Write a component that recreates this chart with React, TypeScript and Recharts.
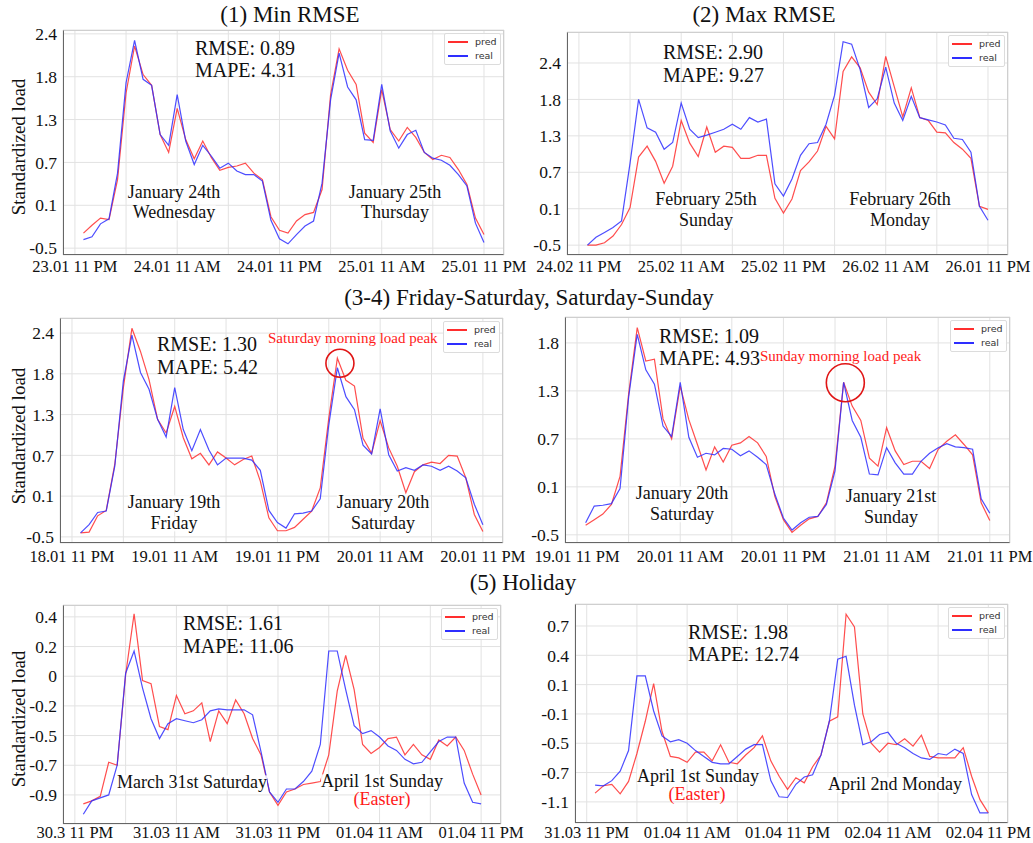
import React from "react";
import { LineChart, Line, XAxis, YAxis, CartesianGrid, ReferenceDot } from "recharts";

const SERIF = '"Liberation Serif", "Times New Roman", serif';
const SANS = '"DejaVu Sans", sans-serif';

const hours = [
  1, 2, 3, 4, 5, 6, 7, 8, 9, 10, 11, 12, 13, 14, 15, 16, 17, 18, 19, 20, 21, 22, 23, 24,
  25, 26, 27, 28, 29, 30, 31, 32, 33, 34, 35, 36, 37, 38, 39, 40, 41, 42, 43, 44, 45, 46, 47, 48,
];
const xTicks = [0, 6, 12, 18, 24, 30, 36, 42, 48];

// (1) Min RMSE
const p1Pred = [
  -0.29, -0.18, -0.08, -0.1, 0.46, 1.61, 2.23, 1.83, 1.7, 1.09, 0.84, 1.43, 1.02, 0.75, 1.0, 0.77,
  0.59, 0.63, 0.65, 0.69, 0.55, 0.46, -0.06, -0.25, -0.29, -0.12, -0.03, 0.0, 0.32, 1.59, 2.19, 1.89,
  1.71, 1.11, 0.98, 1.65, 1.16, 1.0, 1.19, 1.05, 0.84, 0.74, 0.8, 0.77, 0.6, 0.39, -0.08, -0.31,
];
const p1Real = [
  -0.38, -0.34, -0.16, -0.09, 0.55, 1.73, 2.31, 1.77, 1.7, 1.09, 0.94, 1.59, 1.0, 0.67, 0.94, 0.79,
  0.62, 0.69, 0.58, 0.53, 0.53, 0.44, -0.11, -0.37, -0.44, -0.31, -0.19, -0.12, 0.41, 1.53, 2.13, 1.68,
  1.53, 1.02, 1.01, 1.71, 1.14, 0.9, 1.09, 1.15, 0.84, 0.76, 0.73, 0.66, 0.53, 0.37, -0.15, -0.42,
];
const p1Levels = [-0.5, 0.1, 0.7, 1.3, 1.8, 2.4];
const p1XLabels = ["23.01 11 PM", "24.01 11 AM", "24.01 11 PM", "25.01 11 AM", "25.01 11 PM"];

// (2) Max RMSE
const p2Pred = [
  -0.5, -0.5, -0.46, -0.35, -0.16, 0.12, 0.95, 1.13, 0.88, 0.52, 0.8, 1.51, 1.18, 0.96, 1.42, 1.03,
  1.13, 1.11, 0.93, 0.93, 0.98, 0.98, 0.27, 0.03, 0.26, 0.73, 0.87, 1.05, 1.43, 1.25, 2.26, 2.5,
  2.32, 1.92, 1.73, 2.51, 2.01, 1.56, 1.99, 1.55, 1.51, 1.35, 1.34, 1.19, 1.08, 0.93, 0.14, 0.09,
];
const p2Real = [
  -0.5, -0.37, -0.29, -0.21, -0.1, 0.85, 1.8, 1.41, 1.35, 1.08, 1.19, 1.75, 1.39, 1.27, 1.31, 1.35,
  1.39, 1.46, 1.39, 1.55, 1.49, 1.53, 0.51, 0.31, 0.59, 0.98, 1.17, 1.19, 1.46, 1.87, 2.75, 2.71,
  2.29, 1.69, 1.81, 2.33, 1.75, 1.51, 1.85, 1.55, 1.52, 1.49, 1.45, 1.26, 1.24, 1.03, 0.14, -0.09,
];
const p2Levels = [-0.5, 0.1, 0.7, 1.3, 1.8, 2.4];
const p2XLabels = ["24.02 11 PM", "25.02 11 AM", "25.02 11 PM", "26.02 11 AM", "26.01 11 PM"];

// (3) Friday-Saturday
const p3Pred = [
  -0.44, -0.43, -0.19, -0.11, 0.57, 1.63, 2.47, 2.13, 1.73, 1.23, 1.03, 1.4, 0.96, 0.65, 0.73, 0.56,
  0.75, 0.66, 0.56, 0.64, 0.69, 0.32, -0.22, -0.41, -0.41, -0.36, -0.24, -0.12, 0.22, 1.25, 2.03, 1.72,
  1.65, 0.95, 0.73, 1.21, 0.81, 0.54, 0.15, 0.46, 0.56, 0.6, 0.58, 0.7, 0.69, 0.37, -0.17, -0.42,
];
const p3Real = [
  -0.44, -0.32, -0.14, -0.12, 0.54, 1.71, 2.37, 1.82, 1.61, 1.23, 0.97, 1.63, 1.08, 0.77, 1.08, 0.78,
  0.56, 0.66, 0.66, 0.66, 0.63, 0.48, -0.11, -0.29, -0.37, -0.16, -0.15, -0.12, 0.06, 1.15, 1.89, 1.52,
  1.36, 0.85, 0.72, 1.37, 0.71, 0.47, 0.52, 0.48, 0.56, 0.54, 0.48, 0.54, 0.47, 0.37, -0.02, -0.32,
];
const p3Levels = [-0.5, 0.1, 0.7, 1.3, 1.8, 2.4];
const p3XLabels = ["18.01 11 PM", "19.01 11 AM", "19.01 11 PM", "20.01 11 AM", "20.01 11 PM"];

// (4) Saturday-Sunday
const p4Pred = [
  -0.38, -0.31, -0.24, -0.12, 0.23, 1.26, 1.96, 1.61, 1.63, 0.95, 0.7, 1.35, 0.94, 0.63, 0.31, 0.6,
  0.41, 0.62, 0.65, 0.73, 0.65, 0.48, -0.02, -0.31, -0.47, -0.38, -0.3, -0.27, -0.1, 0.36, 1.39, 1.11,
  0.93, 0.46, 0.36, 0.84, 0.55, 0.38, 0.42, 0.42, 0.33, 0.57, 0.67, 0.75, 0.63, 0.5, -0.1, -0.32,
];
const p4Real = [
  -0.35, -0.14, -0.13, -0.11, 0.08, 1.22, 1.89, 1.52, 1.37, 0.86, 0.73, 1.39, 0.72, 0.47, 0.52, 0.5,
  0.58, 0.57, 0.49, 0.55, 0.47, 0.38, 0.01, -0.29, -0.44, -0.35, -0.28, -0.27, -0.12, 0.3, 1.39, 0.93,
  0.72, 0.26, 0.25, 0.59, 0.4, 0.26, 0.26, 0.42, 0.52, 0.59, 0.64, 0.6, 0.59, 0.57, -0.05, -0.23,
];
const p4Levels = [-0.5, 0.1, 0.7, 1.3, 1.8];
const p4XLabels = ["19.01 11 PM", "20.01 11 AM", "20.01 11 PM", "21.01 11 AM", "21.01 11 PM"];

// (5) Holiday, March 31 - April 1
const p5Pred = [
  -0.96, -0.94, -0.91, -0.68, -0.7, 0.01, 0.42, -0.03, -0.05, -0.41, -0.44, -0.13, -0.28, -0.25, -0.18, -0.54,
  -0.25, -0.38, -0.16, -0.28, -0.52, -0.63, -0.88, -0.97, -0.88, -0.86, -0.83, -0.82, -0.81, -0.63, -0.1, 0.14,
  -0.09, -0.56, -0.62, -0.58, -0.52, -0.51, -0.63, -0.56, -0.63, -0.66, -0.53, -0.57, -0.51, -0.6, -0.76, -0.9,
];
const p5Real = [
  -1.03, -0.94, -0.92, -0.9, -0.7, 0.02, 0.17, -0.08, -0.33, -0.52, -0.38, -0.33, -0.35, -0.37, -0.34, -0.25,
  -0.23, -0.24, -0.24, -0.24, -0.29, -0.61, -0.88, -0.95, -0.86, -0.86, -0.81, -0.74, -0.56, 0.17, 0.17, -0.09,
  -0.4, -0.48, -0.45, -0.51, -0.57, -0.6, -0.66, -0.69, -0.68, -0.61, -0.54, -0.51, -0.51, -0.82, -0.95, -0.96,
];
const p5Levels = [-0.9, -0.7, -0.5, -0.2, 0, 0.2, 0.4];
const p5XLabels = ["30.3 11 PM", "31.03 11 AM", "31.03 11 PM", "01.04 11 AM", "01.04 11 PM"];

// (5) Holiday, April 1 - April 2
const p6Pred = [
  -0.98, -0.88, -0.86, -0.99, -0.82, -0.57, -0.2, 0.11, -0.34, -0.59, -0.6, -0.63, -0.56, -0.56, -0.62, -0.51,
  -0.63, -0.64, -0.58, -0.53, -0.4, -0.62, -0.75, -0.93, -0.77, -0.84, -0.66, -0.58, -0.2, -0.14, 0.82, 0.69,
  -0.1, -0.5, -0.56, -0.5, -0.51, -0.44, -0.52, -0.39, -0.59, -0.6, -0.6, -0.6, -0.53, -0.75, -1.07, -1.25,
];
const p6Real = [
  -0.87, -0.88, -0.81, -0.69, -0.55, 0.19, 0.19, -0.08, -0.4, -0.48, -0.45, -0.5, -0.55, -0.59, -0.63, -0.64,
  -0.64, -0.59, -0.54, -0.51, -0.51, -0.81, -1.03, -1.04, -0.86, -0.76, -0.73, -0.58, -0.2, 0.36, 0.39, -0.04,
  -0.51, -0.48, -0.38, -0.35, -0.5, -0.53, -0.57, -0.6, -0.61, -0.57, -0.58, -0.54, -0.57, -1.0, -1.25, -1.25,
];
const p6Levels = [-1.1, -0.7, -0.5, -0.1, 0.1, 0.4, 0.7];
const p6XLabels = ["31.03 11 PM", "01.04 11 AM", "01.04 11 PM", "02.04 11 AM", "02.04 11 PM"];

// the tick labels are evenly spaced but not evenly valued: map a value onto tick-index units
const toPos = (v: number, levels: number[]) => {
  let i = 0;
  if (v >= levels[levels.length - 1]) i = levels.length - 2;
  else if (v > levels[0]) while (v > levels[i + 1]) i++;
  return i + (v - levels[i]) / (levels[i + 1] - levels[i]);
};

type Circle = { x: number; y: number; r: number };

type PanelProps = {
  fx: number;
  fy: number;
  fw: number;
  fh: number;
  yDomain: [number, number];
  levels: number[];
  pred: number[];
  real: number[];
  xLabels: string[];
  circle?: Circle;
  xGap?: number;
};

const YW = 60;
const XH = 30;

function Panel({ fx, fy, fw, fh, yDomain, levels, pred, real, xLabels, circle, xGap = 5 }: PanelProps) {
  const data = hours.map((h, i) => ({
    h,
    pred: toPos(pred[i], levels),
    real: toPos(real[i], levels),
  }));
  return (
    <>
      <div style={{ position: "absolute", left: fx - YW, top: fy - 1 }}>
        <LineChart
          width={fw + YW + 1}
          height={fh + XH + 1}
          data={data}
          margin={{ top: 1, right: 1, bottom: 0, left: 0 }}
        >
          <CartesianGrid stroke="#e2e2e2" strokeWidth={1} />
          <XAxis
            dataKey="h"
            type="number"
            domain={[-1.4, 50.35]}
            ticks={xTicks}
            interval={0}
            allowDataOverflow
            axisLine={false}
            tickLine={false}
            tickSize={0}
            tickMargin={xGap}
            height={XH}
            tickFormatter={(v: number) => (v % 12 === 0 ? xLabels[v / 12] : "")}
            tick={{ fontFamily: SERIF, fontSize: 16.5, fill: "#111" }}
          />
          <YAxis
            type="number"
            domain={yDomain}
            ticks={levels.map((_, i) => i)}
            interval={0}
            allowDataOverflow
            axisLine={false}
            tickLine={false}
            tickSize={0}
            tickMargin={6}
            width={YW}
            tickFormatter={(i: number) => String(levels[i])}
            tick={{ fontFamily: SERIF, fontSize: 17.5, fill: "#111" }}
          />
          <Line
            type="linear"
            dataKey="pred"
            stroke="#ff2e2e"
            strokeOpacity={0.85}
            strokeWidth={1.2}
            dot={false}
            isAnimationActive={false}
          />
          <Line
            type="linear"
            dataKey="real"
            stroke="#2e2eff"
            strokeOpacity={0.85}
            strokeWidth={1.2}
            dot={false}
            isAnimationActive={false}
          />
          {circle && (
            <ReferenceDot
              x={circle.x}
              y={circle.y}
              r={circle.r}
              fill="none"
              stroke="#e01515"
              strokeWidth={1.6}
            />
          )}
        </LineChart>
      </div>
      <div
        style={{
          position: "absolute",
          left: fx,
          top: fy,
          width: fw,
          height: fh,
          boxSizing: "border-box",
          borderTop: "1px solid #cfcfcf",
          borderRight: "1px solid #cfcfcf",
          borderLeft: "1px solid #666",
          borderBottom: "1px solid #666",
          pointerEvents: "none",
        }}
      />
      <div
        style={{
          position: "absolute",
          left: fx + fw - 60,
          top: fy + 3,
          width: 57,
          height: 32,
          boxSizing: "border-box",
          border: "1px solid #dcdcdc",
          borderRadius: 2,
          background: "rgba(255,255,255,0.9)",
          fontFamily: SANS,
          fontSize: 9.5,
          color: "#333",
        }}
      >
        {[
          { name: "pred", color: "#ff2e2e", y: 8 },
          { name: "real", color: "#2e2eff", y: 22 },
        ].map((it) => (
          <React.Fragment key={it.name}>
            <div
              style={{
                position: "absolute",
                left: 3,
                top: it.y - 1,
                width: 20,
                height: 1.5,
                background: it.color,
              }}
            />
            <div style={{ position: "absolute", left: 30, top: it.y - 6, lineHeight: "12px" }}>
              {it.name}
            </div>
          </React.Fragment>
        ))}
      </div>
    </>
  );
}

type TxtProps = {
  x: number;
  y: number;
  size: number;
  color?: string;
  start?: boolean;
  bg?: boolean;
  rotate?: boolean;
  children: React.ReactNode;
};

function Txt({ x, y, size, color = "#111", start, bg, rotate, children }: TxtProps) {
  return (
    <div
      style={{
        position: "absolute",
        left: x,
        top: y,
        transform: rotate
          ? "translate(-50%,-50%) rotate(-90deg)"
          : start
          ? "translate(0,-50%)"
          : "translate(-50%,-50%)",
        fontFamily: SERIF,
        fontSize: size,
        color,
        whiteSpace: "nowrap",
        lineHeight: 0.85,
        background: bg ? "rgba(255,255,255,0.85)" : undefined,
      }}
    >
      {children}
    </div>
  );
}

export default function App() {
  return (
    <div
      style={{
        position: "absolute",
        left: 0,
        top: 0,
        width: 1033,
        height: 843,
        overflow: "hidden",
        background: "#fff",
      }}
    >
      <style>{`.recharts-surface{overflow:visible}`}</style>

      <Panel fx={63} fy={30} fw={441} fh={225} yDomain={[-0.16, 5.09]} levels={p1Levels} pred={p1Pred} real={p1Real} xLabels={p1XLabels} />
      <Panel fx={567} fy={32} fw={441} fh={223} yDomain={[-0.27, 5.85]} levels={p2Levels} pred={p2Pred} real={p2Real} xLabels={p2XLabels} />
      <Panel
        fx={60} fy={318} fw={443} fh={225} yDomain={[-0.15, 5.37]}
        levels={p3Levels} pred={p3Pred} real={p3Real} xLabels={p3XLabels}
        circle={{ x: 31.3, y: 4.26, r: 14 }} xGap={7}
      />
      <Panel
        fx={565} fy={317} fw={445} fh={226} yDomain={[-0.17, 4.54]}
        levels={p4Levels} pred={p4Pred} real={p4Real} xLabels={p4XLabels}
        circle={{ x: 31.2, y: 3.17, r: 19 }} xGap={7}
      />
      <Panel fx={63} fy={605} fw={438} fh={219} yDomain={[-0.98, 6.4]} levels={p5Levels} pred={p5Pred} real={p5Real} xLabels={p5XLabels} xGap={2} />
      <Panel fx={575} fy={604} fw={433} fh={219} yDomain={[-0.72, 6.75]} levels={p6Levels} pred={p6Pred} real={p6Real} xLabels={p6XLabels} xGap={3} />

      <Txt x={290} y={15} size={23}>(1) Min RMSE</Txt>
      <Txt x={764} y={15} size={23}>(2) Max RMSE</Txt>
      <Txt x={529} y={298} size={23}>(3-4) Friday-Saturday, Saturday-Sunday</Txt>
      <Txt x={523} y={583} size={23}>(5) Holiday</Txt>

      <Txt x={19} y={147} size={19} rotate>Standardized load</Txt>
      <Txt x={19} y={436} size={19} rotate>Standardized load</Txt>
      <Txt x={19} y={719} size={19} rotate>Standardized load</Txt>

      <Txt x={195} y={48} size={20} start>RMSE: 0.89</Txt>
      <Txt x={195} y={70} size={20} start>MAPE: 4.31</Txt>
      <Txt x={663} y={52} size={20} start>RMSE: 2.90</Txt>
      <Txt x={663} y={75} size={20} start>MAPE: 9.27</Txt>
      <Txt x={157} y={344} size={20} start>RMSE: 1.30</Txt>
      <Txt x={157} y={367} size={20} start>MAPE: 5.42</Txt>
      <Txt x={659} y={336} size={20} start>RMSE: 1.09</Txt>
      <Txt x={659} y={358} size={20} start>MAPE: 4.93</Txt>
      <Txt x={183} y={623} size={20} start>RMSE: 1.61</Txt>
      <Txt x={183} y={646} size={20} start>MAPE: 11.06</Txt>
      <Txt x={688} y={632} size={20} start>RMSE: 1.98</Txt>
      <Txt x={688} y={654} size={20} start>MAPE: 12.74</Txt>

      <Txt x={268} y={338} size={15} color="#ff1a1a" start>Saturday morning load peak</Txt>
      <Txt x={760} y={356} size={15} color="#ff1a1a" start>Sunday morning load peak</Txt>

      <Txt x={174} y={193} size={18} bg>January 24th</Txt>
      <Txt x={174} y={213} size={18} bg>Wednesday</Txt>
      <Txt x={395} y={193} size={18} bg>January 25th</Txt>
      <Txt x={395} y={213} size={18} bg>Thursday</Txt>
      <Txt x={706} y={200} size={18} bg>February 25th</Txt>
      <Txt x={706} y={221} size={18} bg>Sunday</Txt>
      <Txt x={900} y={200} size={18} bg>February 26th</Txt>
      <Txt x={900} y={221} size={18} bg>Monday</Txt>
      <Txt x={174} y={503} size={18} bg>January 19th</Txt>
      <Txt x={174} y={524} size={18} bg>Friday</Txt>
      <Txt x={383} y={503} size={18} bg>January 20th</Txt>
      <Txt x={383} y={524} size={18} bg>Saturday</Txt>
      <Txt x={682} y={494} size={18} bg>January 20th</Txt>
      <Txt x={682} y={515} size={18} bg>Saturday</Txt>
      <Txt x={891} y={497} size={18} bg>January 21st</Txt>
      <Txt x={891} y={518} size={18} bg>Sunday</Txt>
      <Txt x={192} y={783} size={18} bg>March 31st Saturday</Txt>
      <Txt x={382} y={782} size={18} bg>April 1st Sunday</Txt>
      <Txt x={382} y={800} size={18} color="#ff1a1a">(Easter)</Txt>
      <Txt x={698} y={777} size={18} bg>April 1st Sunday</Txt>
      <Txt x={697} y={795} size={18} color="#ff1a1a">(Easter)</Txt>
      <Txt x={895} y={785} size={18} bg>April 2nd Monday</Txt>
    </div>
  );
}
